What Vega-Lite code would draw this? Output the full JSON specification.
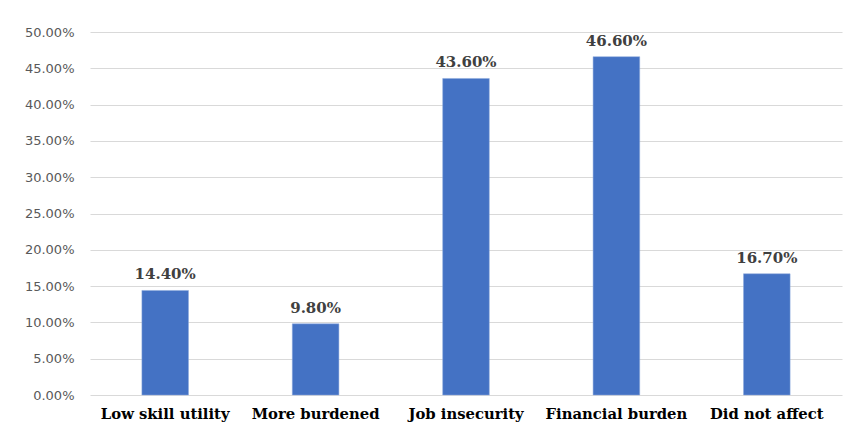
{
  "$schema": "https://vega.github.io/schema/vega-lite/v6.json",
  "autosize": {"type": "none"},
  "padding": {"left": 90, "top": 32, "right": 8, "bottom": 30},
  "width": 752,
  "height": 363,
  "background": "white",
  "data": {"values": [
    {"category": "Low skill utility", "value": 0.144},
    {"category": "More burdened", "value": 0.098},
    {"category": "Job insecurity", "value": 0.436},
    {"category": "Financial burden", "value": 0.466},
    {"category": "Did not affect", "value": 0.167}
  ]},
  "config": {"view": {"stroke": null}},
  "encoding": {
    "x": {"field": "category", "type": "nominal", "sort": null,
      "scale": {"paddingInner": 0.69, "paddingOuter": 0.345},
      "axis": {"title": null, "labelAngle": 0, "domain": false, "ticks": false,
        "labelFont": "DejaVu Serif", "labelFontSize": 14.8, "labelFontWeight": "bold",
        "labelColor": "#000000", "labelPadding": 11}},
    "y": {"field": "value", "type": "quantitative",
      "scale": {"domain": [0, 0.5], "nice": false},
      "axis": {"title": null, "format": ".2%", "values": [0,0.05,0.1,0.15,0.2,0.25,0.3,0.35,0.4,0.45,0.5],
        "domain": false, "ticks": false, "gridColor": "#d9d9d9", "gridWidth": 1,
        "labelFont": "DejaVu Sans", "labelFontSize": 13, "labelColor": "#595959", "labelPadding": 16}}
  },
  "layer": [
    {"mark": {"type": "bar", "color": "#4472C4", "stroke": "#8faadc", "strokeWidth": 0.5}},
    {"mark": {"type": "text", "baseline": "bottom", "dy": -8, "font": "DejaVu Serif", "fontSize": 15, "fontWeight": "bold", "color": "#404040"},
     "encoding": {"text": {"field": "value", "type": "quantitative", "format": ".2%"}}}
  ]
}
